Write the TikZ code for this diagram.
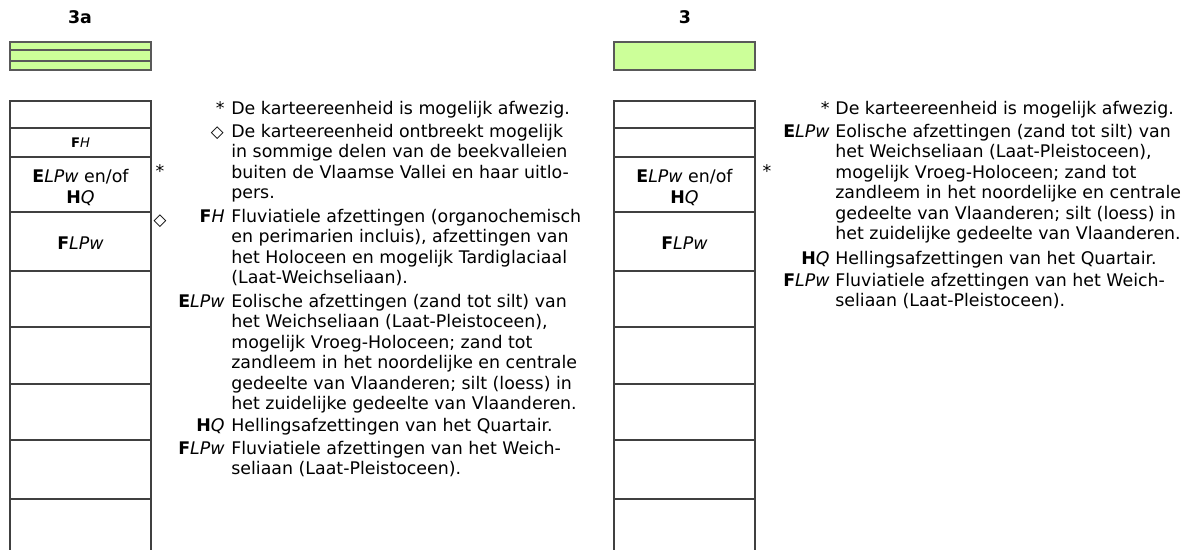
\documentclass[tikz,border=0pt]{standalone}
\usepackage{fontspec}
\setmainfont{DejaVu Sans}
\usetikzlibrary{positioning}

\newcommand{\legfont}{\fontsize{9.9}{11.65}\selectfont}
\newcommand{\tinyfont}{\fontsize{7.5}{9}\selectfont}
\newcommand{\diamfont}{\fontsize{9.5}{11}\selectfont}
\newcommand{\unit}[2]{\textbf{#1}\textit{#2}}
\newcommand{\lines}[1]{\begin{tabular}[t]{@{}l@{}}#1\end{tabular}}
\newcommand{\elpwtext}{Eolische afzettingen (zand tot silt) van\\het Weichseliaan (Laat-Pleistoceen),\\mogelijk Vroeg-Holoceen; zand tot\\zandleem in het noordelijke en centrale\\gedeelte van Vlaanderen; silt (loess) in\\het zuidelijke gedeelte van Vlaanderen.}

\tikzset{
  cell/.style={draw=black!75, line width=0.6pt, minimum width=2.82cm, inner sep=0pt, outer sep=0pt, anchor=north west},
  celltext/.style={inner sep=0pt, align=center, font=\legfont},
  green/.style={draw=black!65, line width=0.6pt, fill={rgb,255:red,204;green,255;blue,153}},
  tag/.style={anchor=base east, inner sep=0pt, font=\legfont},
  body/.style={anchor=base west, inner sep=0pt, font=\legfont},
  flag/.style={inner sep=0pt, font=\legfont},
  title/.style={inner sep=0pt, font=\legfont\bfseries}
}

\begin{document}
\begin{tikzpicture}[x=0.02cm, y=-0.02cm]
  \useasboundingbox (0,0) rectangle (1184,550);

  % Titles
  \node[title] (t3a) at (80,17) {3a};
  \node[title] (t3) at (685,17) {3};

  % Green blocks
  \draw[green] (10,42) rectangle (151,50);
  \draw[green] (10,50) rectangle (151,61);
  \draw[green] (10,61) rectangle (151,70);
  \draw[green] (614,42) rectangle (755,70);

  % Columns
  \foreach \top/\h [count=\n] in {101/27, 128/29, 157/55, 212/59, 271/56, 327/57, 384/56, 440/59}{
    \node[cell, minimum height=\h*0.02cm] (a\n) at (10,\top) {};
    \node[cell, minimum height=\h*0.02cm] (b\n) at (614,\top) {};
  }
  \draw[draw=black!75, line width=0.6pt] (a8.south west) -- ++(0,51);
  \draw[draw=black!75, line width=0.6pt] (a8.south east) -- ++(0,51);
  \draw[draw=black!75, line width=0.6pt] (b8.south west) -- ++(0,51);
  \draw[draw=black!75, line width=0.6pt] (b8.south east) -- ++(0,51);

  % Units in the columns
  \node[celltext, font=\tinyfont] (afh) at (a2) {\unit{F}{H}};
  \node[celltext, yshift=-0.06cm] (aelpw) at (a3) {\unit{E}{LPw} en/of\\\unit{H}{Q}};
  \node[celltext, yshift=-0.03cm] (aflpw) at (a4) {\unit{F}{LPw}};
  \node[celltext, yshift=-0.06cm] (belpw) at (b3) {\unit{E}{LPw} en/of\\\unit{H}{Q}};
  \node[celltext, yshift=-0.03cm] (bflpw) at (b4) {\unit{F}{LPw}};

  % Marks beside the columns
  \node[flag] (astar) at (160,171) {*};
  \node[flag, font=\diamfont] (adiam) at (160,221) {◇};
  \node[flag] (bstar) at (767,171) {*};

  % Legend 3a
  \node[tag] (la1) at (225,114.5) {*};
  \node[body] (ta1) at (231,114.5) {De karteereenheid is mogelijk afwezig.};
  \node[tag, font=\diamfont] (la2) at (224,137.5) {◇};
  \node[body] (ta2) at (231,137.5) {\lines{De karteereenheid ontbreekt mogelijk\\in sommige delen van de beekvalleien\\buiten de Vlaamse Vallei en haar uitlo-\\pers.}};
  \node[tag] (la3) at (225,222.5) {\unit{F}{H}};
  \node[body] (ta3) at (231,222.5) {\lines{Fluviatiele afzettingen (organochemisch\\en perimarien incluis), afzettingen van\\het Holoceen en mogelijk Tardiglaciaal\\(Laat-Weichseliaan).}};
  \node[tag] (la4) at (225,307.5) {\unit{E}{LPw}};
  \node[body] (ta4) at (231,307.5) {\lines{\elpwtext}};
  \node[tag] (la5) at (225,431.5) {\unit{H}{Q}};
  \node[body] (ta5) at (231,431.5) {Hellingsafzettingen van het Quartair.};
  \node[tag] (la6) at (225,454.5) {\unit{F}{LPw}};
  \node[body] (ta6) at (231,454.5) {\lines{Fluviatiele afzettingen van het Weich-\\seliaan (Laat-Pleistoceen).}};

  % Legend 3
  \node[tag] (lb1) at (830,114.5) {*};
  \node[body] (tb1) at (835,114.5) {De karteereenheid is mogelijk afwezig.};
  \node[tag] (lb2) at (830,137.5) {\unit{E}{LPw}};
  \node[body] (tb2) at (835,137.5) {\lines{\elpwtext}};
  \node[tag] (lb3) at (830,264.5) {\unit{H}{Q}};
  \node[body] (tb3) at (835,264.5) {Hellingsafzettingen van het Quartair.};
  \node[tag] (lb4) at (830,286.5) {\unit{F}{LPw}};
  \node[body] (tb4) at (835,286.5) {\lines{Fluviatiele afzettingen van het Weich-\\seliaan (Laat-Pleistoceen).}};
\end{tikzpicture}
\end{document}
